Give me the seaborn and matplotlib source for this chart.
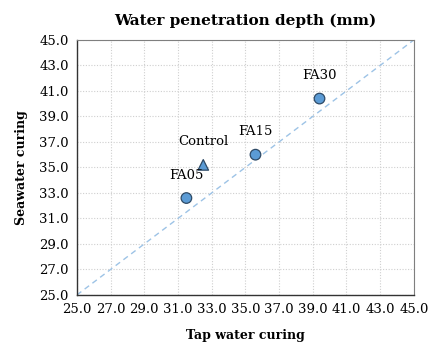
import matplotlib
matplotlib.use("Agg")
import matplotlib.pyplot as plt
import seaborn as sns
import pandas as pd
import numpy as np

labels = ["FA05", "Control", "FA15", "FA30"]
tap_water = [31.5, 32.5, 35.6, 39.4]
seawater = [32.6, 35.2, 36.0, 40.4]
markers = ["o", "^", "o", "o"]
ticks = [25.0, 27.0, 29.0, 31.0, 33.0, 35.0, 37.0, 39.0, 41.0, 43.0, 45.0]

sns.set_style("white")
plt.rcParams['font.family'] = ['DejaVu Serif']
plt.rcParams['text.color'] = 'black'
plt.rcParams['axes.labelcolor'] = 'black'
plt.rcParams['xtick.color'] = 'black'
plt.rcParams['ytick.color'] = 'black'

df = pd.DataFrame({"tap": tap_water, "sea": seawater, "label": labels, "marker": markers})

fig = plt.figure(figsize=(4.32, 3.47), dpi=100)
ax = fig.add_axes([0.178, 0.150, 0.780, 0.735])

# diagonal reference line
ax.plot([ticks[0], ticks[-1]], [ticks[0], ticks[-1]], ls=(0, (4, 3)), color="#9DC3E6", lw=1.0, zorder=1)

sns.scatterplot(data=df, x="tap", y="sea", style="label",
                markers={l: m for l, m in zip(labels, markers)},
                color="#5B9BD5", edgecolor="#2E4A66", linewidth=0.9, s=58,
                legend=False, ax=ax, zorder=3)

for l, x, y in zip(labels, tap_water, seawater):
    ax.annotate(l, (x, y), xytext=(0, 16.5), textcoords="offset points",
                ha="center", va="center", fontsize=9.5, color="black")

ax.set_xlim(25, 45)
ax.set_ylim(25, 45)
ax.set_xticks(ticks)
ax.set_yticks(ticks)
ax.set_xticklabels([f"{t:.1f}" for t in ticks], fontsize=9.5)
ax.set_yticklabels([f"{t:.1f}" for t in ticks], fontsize=9.5)
ax.grid(True, color="#CFCFCF", ls=(0, (1, 1.5)), lw=0.8)
ax.tick_params(axis="both", direction="out", length=4, width=0.8, color="#333333", pad=2)
for s in ["left", "bottom"]:
    ax.spines[s].set_color("#333333")
    ax.spines[s].set_linewidth(1.0)
for s in ["top", "right"]:
    ax.spines[s].set_color("#7F7F7F")
    ax.spines[s].set_linewidth(0.8)

ax.set_xlabel("Tap water curing", fontsize=9, fontweight="bold", labelpad=9)
ax.set_ylabel("Seawater curing", fontsize=9, fontweight="bold", labelpad=8)
ax.set_title("Water penetration depth (mm)", fontsize=11, fontweight="bold", pad=11)

fig.savefig("out.png", dpi=100)
